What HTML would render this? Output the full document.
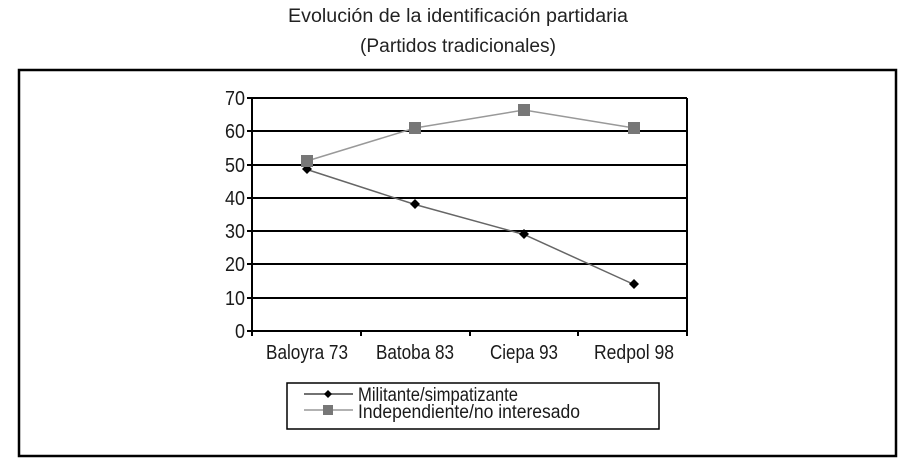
<!DOCTYPE html>
<html><head><meta charset="utf-8"><style>body{margin:0;background:#fff}svg{display:block}</style></head><body>
<svg width="916" height="464" xmlns="http://www.w3.org/2000/svg" font-family="Liberation Sans, sans-serif">
<text x="458" y="22" font-size="19" text-anchor="middle" textLength="340" lengthAdjust="spacingAndGlyphs" fill="#222">Evolución de la identificación partidaria</text>
<text x="458" y="52" font-size="19" text-anchor="middle" textLength="196" lengthAdjust="spacingAndGlyphs" fill="#222">(Partidos tradicionales)</text>
<rect x="19" y="70" width="877" height="386" fill="none" stroke="#000" stroke-width="2.5"/>
<g stroke="#000" stroke-width="2">
<line x1="252" y1="98" x2="687" y2="98"/><line x1="252" y1="131" x2="687" y2="131"/><line x1="252" y1="165" x2="687" y2="165"/><line x1="252" y1="198" x2="687" y2="198"/><line x1="252" y1="231" x2="687" y2="231"/><line x1="252" y1="264" x2="687" y2="264"/><line x1="252" y1="298" x2="687" y2="298"/><line x1="252" y1="331" x2="687" y2="331"/>
<line x1="252" y1="98" x2="252" y2="336"/><line x1="687" y1="98" x2="687" y2="336"/>
<line x1="247" y1="98" x2="252" y2="98"/><line x1="247" y1="131" x2="252" y2="131"/><line x1="247" y1="165" x2="252" y2="165"/><line x1="247" y1="198" x2="252" y2="198"/><line x1="247" y1="231" x2="252" y2="231"/><line x1="247" y1="264" x2="252" y2="264"/><line x1="247" y1="298" x2="252" y2="298"/><line x1="247" y1="331" x2="252" y2="331"/>
<line x1="361" y1="331" x2="361" y2="336"/><line x1="470" y1="331" x2="470" y2="336"/><line x1="578" y1="331" x2="578" y2="336"/>
</g>
<g font-size="20" fill="#1a1a1a" text-anchor="end">
<text x="245" y="105" textLength="20" lengthAdjust="spacingAndGlyphs">70</text><text x="245" y="138" textLength="20" lengthAdjust="spacingAndGlyphs">60</text><text x="245" y="172" textLength="20" lengthAdjust="spacingAndGlyphs">50</text><text x="245" y="205" textLength="20" lengthAdjust="spacingAndGlyphs">40</text><text x="245" y="238" textLength="20" lengthAdjust="spacingAndGlyphs">30</text><text x="245" y="271" textLength="20" lengthAdjust="spacingAndGlyphs">20</text><text x="245" y="305" textLength="20" lengthAdjust="spacingAndGlyphs">10</text><text x="245" y="338" textLength="10" lengthAdjust="spacingAndGlyphs">0</text>
</g>
<g font-size="20" fill="#1a1a1a" text-anchor="middle">
<text x="307" y="359" textLength="82" lengthAdjust="spacingAndGlyphs">Baloyra 73</text>
<text x="415" y="359" textLength="78" lengthAdjust="spacingAndGlyphs">Batoba 83</text>
<text x="524" y="359" textLength="68" lengthAdjust="spacingAndGlyphs">Ciepa 93</text>
<text x="634" y="359" textLength="80" lengthAdjust="spacingAndGlyphs">Redpol 98</text>
</g>
<polyline points="307,169.5 415,204.5 524,234.5 634,284.5" fill="none" stroke="#666" stroke-width="1.5"/>
<polyline points="307,161 415,128 524,110 634,128" fill="none" stroke="#999" stroke-width="1.5"/>
<g fill="#000">
<path d="M307,164 l5,5 l-5,5 l-5,-5z"/><path d="M415,199 l5,5 l-5,5 l-5,-5z"/><path d="M524,229 l5,5 l-5,5 l-5,-5z"/><path d="M634,279 l5,5 l-5,5 l-5,-5z"/>
</g>
<g fill="#777">
<rect x="301" y="155" width="12" height="12"/><rect x="409" y="122" width="12" height="12"/><rect x="518" y="104" width="12" height="12"/><rect x="628" y="122" width="12" height="12"/>
</g>
<rect x="287" y="383" width="372" height="46" fill="none" stroke="#000" stroke-width="1.5"/>
<line x1="304" y1="394" x2="353" y2="394" stroke="#444" stroke-width="1.5"/>
<path d="M328,390 l4,4 l-4,4 l-4,-4z" fill="#000"/>
<line x1="304" y1="410" x2="353" y2="410" stroke="#999" stroke-width="1.5"/>
<rect x="323" y="405" width="10" height="10" fill="#777"/>
<text x="358" y="401" font-size="19" fill="#1a1a1a" textLength="160" lengthAdjust="spacingAndGlyphs">Militante/simpatizante</text>
<text x="358" y="418" font-size="19" fill="#1a1a1a" textLength="222" lengthAdjust="spacingAndGlyphs">Independiente/no interesado</text>
</svg>
</body></html>
